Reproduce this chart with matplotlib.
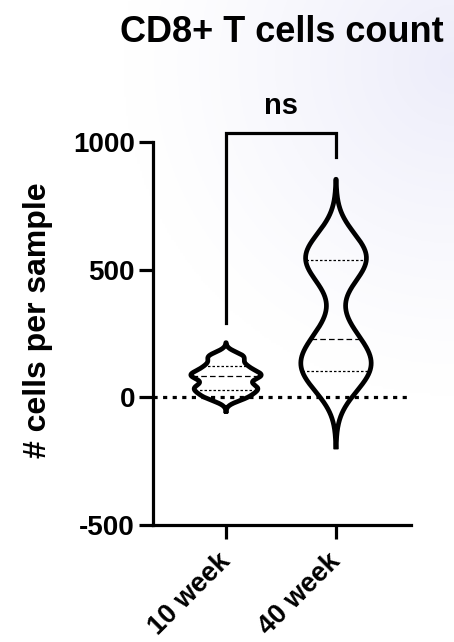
import numpy as np
import matplotlib.pyplot as plt
from matplotlib.transforms import ScaledTranslation

# values (cells per sample)
groups = ["10 week", "40 week"]
week10 = [0, 28, 45, 82, 90, 121, 160]
week40 = [85, 102, 150, 230, 525, 539, 575]
bandwidths = [18, 93]
y_ticks = [-500, 0, 500, 1000]
title = "CD8+ T cells count"
y_label = "# cells per sample"
sig_label = "ns"

plt.rcParams["font.family"] = ["Liberation Sans", "DejaVu Sans"]
plt.rcParams["font.weight"] = "bold"
plt.rcParams["axes.unicode_minus"] = False

HALF = 0.32  # max half-width of a violin, in category units
LW = 2.3


def kde_profile(values, bw, n=600):
    v = np.asarray(values, float)
    y = np.linspace(v.min() - 3 * bw, v.max() + 3 * bw, n)
    d = np.exp(-0.5 * ((y[:, None] - v[None, :]) / bw) ** 2).sum(axis=1)
    return y, d / d.max()


fig = plt.figure(figsize=(4.54, 6.42), dpi=100)

# faint lavender wash in the upper right, as in the reference
bg = fig.add_axes([0, 0, 1, 1], zorder=-10)
gx, gy = np.meshgrid(np.linspace(0, 1, 200), np.linspace(0, 1, 280))
r = np.hypot((gx - 1.0) * 454, (gy - 0.1) * 642) / 330
t = np.clip(1 - r, 0, 1) ** 1.2
img = np.ones((280, 200, 3))
img[..., 0] -= 0.07 * t
img[..., 1] -= 0.07 * t
img[..., 2] -= 0.02 * t
bg.imshow(img, extent=[0, 1, 0, 1], aspect="auto", origin="upper")
bg.axis("off")

ax = fig.add_axes([153 / 454, 1 - 525 / 642, 258 / 454, 383 / 642])
ax.patch.set_alpha(0)

ax.axhline(0, color="black", lw=LW, ls=(0, (1.3, 1.7)), zorder=1)

for i, (vals, bw) in enumerate(zip([week10, week40], bandwidths)):
    y, d = kde_profile(vals, bw)
    w = HALF * d
    xs = np.concatenate([i - w, (i + w)[::-1]])
    ys = np.concatenate([y, y[::-1]])
    ax.plot(xs, ys, color="black", lw=3.4, solid_joinstyle="round", zorder=3)
    q1, med, q3 = np.percentile(vals, [25, 50, 75], method="weibull")
    for q, ls in [(q1, (0, (2, 1.6))), (med, (0, (4.5, 2.5))), (q3, (0, (2, 1.6)))]:
        hw = HALF * np.interp(q, y, d)
        ax.plot([i - hw, i + hw], [q, q], color="black", lw=0.9, ls=ls, zorder=2)

ax.set_xlim(-0.664, 1.682)
ax.set_ylim(-500, 1000)
ax.set_yticks(y_ticks)
ax.set_xticks(range(len(groups)))
ax.set_xticklabels([])
# rotated category labels, placed by hand so they can be nudged
shift = ScaledTranslation(1 / 100, -33 / 100, fig.dpi_scale_trans)
for i, g in enumerate(groups):
    ax.text(i, 0, g, transform=ax.get_xaxis_transform() + shift, rotation=45,
            ha="right", va="center", rotation_mode="anchor", fontsize=19.5)
for s in ["top", "right"]:
    ax.spines[s].set_visible(False)
for s in ["left", "bottom"]:
    ax.spines[s].set_linewidth(LW)
ax.tick_params(axis="both", direction="out", length=10, width=LW, labelsize=20, pad=3)

# significance bracket
top = 1035
ax.plot([0, 0, 1, 1], [293, top, top, 941], color="black", lw=LW,
        clip_on=False, solid_joinstyle="miter")
ax.text(0.5, top + 50, sig_label, ha="center", va="bottom", fontsize=21)

fig.text(282 / 454, 1 - 32 / 642, title, ha="center", va="center", fontsize=26)
fig.text(38 / 454, 1 - 320 / 642, y_label, ha="center", va="center",
         rotation=90, fontsize=23)

fig.savefig("out.png", dpi=100)
